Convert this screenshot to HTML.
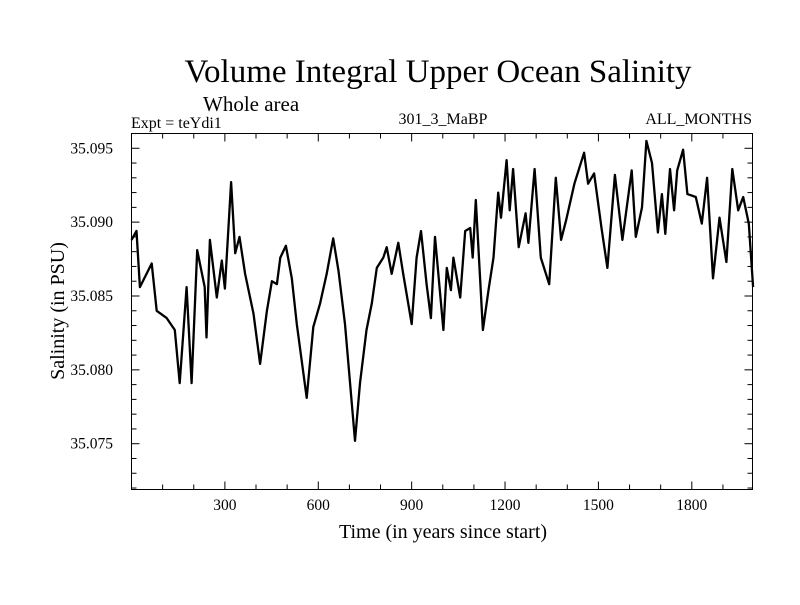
<!DOCTYPE html>
<html><head><meta charset="utf-8"><style>
body{margin:0;background:#fff}
svg text{font-family:"Liberation Serif",serif;fill:#000}
</style></head><body>
<svg id="chart" width="800" height="600" xmlns="http://www.w3.org/2000/svg">
<rect width="800" height="600" fill="#fff"/>
<text x="438" y="82" font-size="33" text-anchor="middle">Volume Integral Upper Ocean Salinity</text>
<text x="203" y="111" font-size="21">Whole area</text>
<text x="131" y="128" font-size="16">Expt = teYdi1</text>
<text x="443" y="124" font-size="16" text-anchor="middle">301_3_MaBP</text>
<text x="752" y="124" font-size="16" text-anchor="end">ALL_MONTHS</text>
<text x="443" y="538" font-size="20" text-anchor="middle">Time (in years since start)</text>
<text transform="translate(64,311) rotate(-90)" font-size="20" text-anchor="middle">Salinity (in PSU)</text>
<g id="axes"></g>
<g id="series"></g>
<rect x="131.5" y="133.5" width="621" height="356" fill="none" stroke="#000" stroke-width="1"/>
</svg>
<script>
const years=[0,16,27,65,81,113,139,155,177,193,211,235,241,252,274,290,300,320,333,347,365,392,413,435,451,467,478,496,515,531,563,584,606,627,648,665,686,718,734,755,772,788,809,820,836,857,873,900,916,930,948,962,975,1002,1013,1026,1034,1056,1072,1088,1096,1106,1129,1147,1163,1178,1187,1205,1215,1226,1244,1266,1275,1295,1315,1342,1363,1380,1396,1423,1454,1467,1486,1510,1529,1553,1577,1607,1620,1640,1654,1672,1691,1704,1715,1730,1743,1753,1772,1786,1813,1832,1849,1868,1889,1911,1930,1949,1965,1983,1997];
const salinity=[35.0888,35.0894,35.0856,35.0872,35.0840,35.0835,35.0827,35.0791,35.0856,35.0791,35.0881,35.0856,35.0822,35.0888,35.0849,35.0874,35.0855,35.0927,35.0879,35.0890,35.0865,35.0838,35.0804,35.0840,35.0860,35.0858,35.0876,35.0884,35.0862,35.0831,35.0781,35.0829,35.0845,35.0865,35.0889,35.0867,35.0831,35.0752,35.0791,35.0827,35.0845,35.0869,35.0876,35.0883,35.0865,35.0886,35.0865,35.0831,35.0876,35.0894,35.0858,35.0835,35.0890,35.0827,35.0869,35.0854,35.0876,35.0849,35.0894,35.0896,35.0876,35.0915,35.0827,35.0854,35.0876,35.0920,35.0903,35.0942,35.0908,35.0936,35.0883,35.0906,35.0886,35.0936,35.0876,35.0858,35.0930,35.0888,35.0901,35.0926,35.0947,35.0926,35.0933,35.0896,35.0869,35.0932,35.0888,35.0935,35.0890,35.0910,35.0955,35.0940,35.0893,35.0919,35.0892,35.0936,35.0908,35.0935,35.0949,35.0919,35.0917,35.0899,35.0930,35.0862,35.0903,35.0873,35.0936,35.0908,35.0917,35.0899,35.0856];
const yTicks=[35.075,35.080,35.085,35.090,35.095];
const xTicks=[300,600,900,1200,1500,1800];
const X0=131.5,X1=752.5,Y0=489.5,Y1=133.5,XMIN=0,XMAX=1995,YMIN=35.0719,YMAX=35.0960;
const sx=v=>X0+(v-XMIN)/(XMAX-XMIN)*(X1-X0);
const sy=v=>Y0-(v-YMIN)/(YMAX-YMIN)*(Y0-Y1);
const NS="http://www.w3.org/2000/svg";
const axes=document.getElementById('axes');
function line(x1,y1,x2,y2){const l=document.createElementNS(NS,'line');l.setAttribute('x1',x1);l.setAttribute('y1',y1);l.setAttribute('x2',x2);l.setAttribute('y2',y2);l.setAttribute('stroke','#000');l.setAttribute('stroke-width','1');axes.appendChild(l);return l;}
for(let t=100;t<XMAX;t+=100){const x=sx(t);const len=(t%300===0)?8:5;
const a=line(x,Y0,x,Y0-len);


const b=line(x,Y1,x,Y1+len);

}
for(let k=0;k<=24;k++){const v=35.072+k*0.001;if(v>YMAX)break;const y=sy(v);const major=(k%5===3);const len=major?8:5;
const a=line(X0,y,X0+len,y);


const b=line(X1,y,X1-len,y);

}
xTicks.forEach(t=>{const tx=document.createElementNS(NS,'text');tx.setAttribute('x',sx(t));tx.setAttribute('y',510);tx.setAttribute('font-size','15.5');tx.setAttribute('text-anchor','middle');tx.textContent=t;


axes.appendChild(tx);});
yTicks.forEach(v=>{const tx=document.createElementNS(NS,'text');tx.setAttribute('x',113);tx.setAttribute('y',sy(v)+5);tx.setAttribute('font-size','15.5');tx.setAttribute('text-anchor','end');tx.textContent=v.toFixed(3);


axes.appendChild(tx);});
const p=document.createElementNS(NS,'polyline');
p.setAttribute('points',years.map((t,i)=>sx(t).toFixed(1)+','+sy(salinity[i]).toFixed(1)).join(' '));
p.setAttribute('fill','none');p.setAttribute('stroke','#000');p.setAttribute('stroke-width','2.3');p.setAttribute('stroke-linejoin','round');


document.getElementById('series').appendChild(p);
</script>
</body></html>
